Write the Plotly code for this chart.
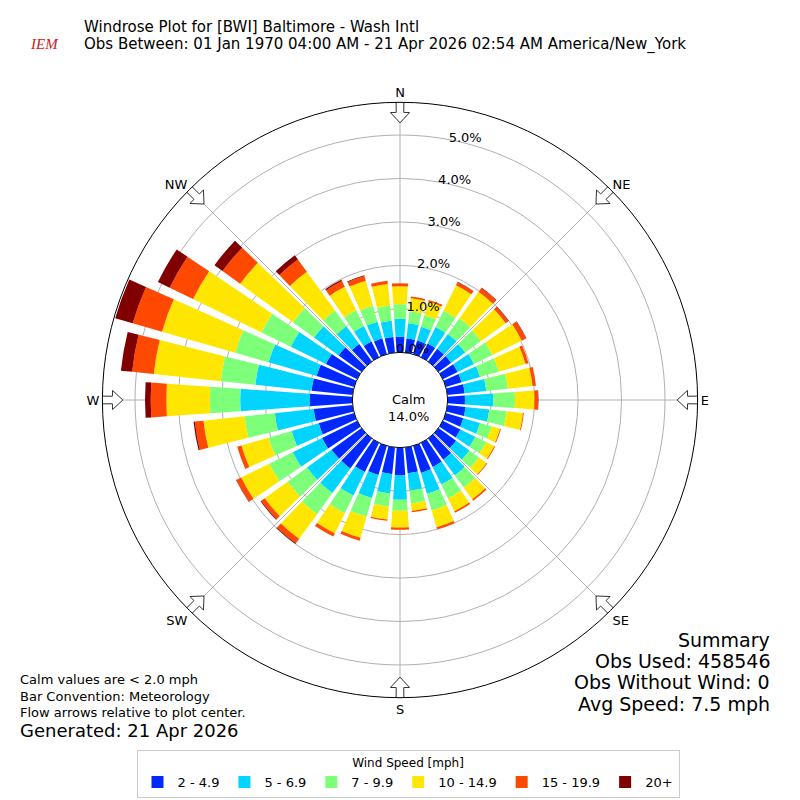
import plotly.graph_objects as go

# direction bins (deg clockwise from north)
directions = list(range(0, 360, 10))

# percent frequency per speed bin, per direction
spd_2_5 = [.36, .33, .33, .35, .36, .36, .38, .38, .40, .40, .42, .42, .45, .50, .60, .62, .65, .60,
           .64, .62, .70, .75, .85, .85, .90, .85, .90, .98, .95, .90, .80, .65, .50, .40, .38, .36]
spd_5_7 = [.41, .35, .33, .42, .42, .40, .42, .44, .50, .65, .55, .40, .38, .38, .45, .45, .50, .40,
           .56, .45, .55, .60, .70, .70, .75, .65, .90, 1.6, 1.3, 1.15, .90, .70, .50, .40, .40, .38]
spd_7_10 = [.34, .28, .28, .42, .45, .45, .47, .45, .50, .50, .40, .28, .28, .27, .35, .35, .40, .30,
            .25, .30, .45, .45, .60, .55, .60, .55, .70, .70, .80, .80, .75, .60, .45, .40, .38, .35]
spd_10_15 = [.41, .30, .32, .65, .75, .70, .75, .64, .57, .45, .38, .20, .21, .22, .33, .33, .40, .17,
             .39, .30, .50, .52, .70, .65, .72, .65, .95, 1.0, 1.55, 1.75, 1.75, 1.5, 1.1, .60, .60, .50]
spd_15_20 = [.07, .04, .04, .08, .11, .08, .11, .07, .08, .08, .02, .02, .02, .02, .04, .04, .05, .03,
             .05, .03, .07, .08, .13, .10, .12, .10, .20, .36, .50, .70, .60, .50, .35, .15, .11, .07]
spd_20 = [0, 0, 0, .01, .01, .01, .01, 0, 0, .01, 0, 0, 0, 0, 0, 0, 0, 0,
          0, 0, 0, 0, .02, .02, .01, 0, .03, .13, .26, .42, .30, .23, .12, .03, .02, 0]

bins = ["2 - 4.9", "5 - 6.9", "7 - 9.9", "10 - 14.9", "15 - 19.9", "20+"]
series = [spd_2_5, spd_5_7, spd_7_10, spd_10_15, spd_15_20, spd_20]
colors = ["#0028ff", "#00d4ff", "#7dff7a", "#ffe600", "#ff4800", "#800000"]

compass = ["N", "NE", "E", "SE", "S", "SW", "W", "NW"]
compass_deg = [0, 45, 90, 135, 180, 225, 270, 315]
ring_vals = [0, 1, 2, 3, 4, 5]

fig = go.Figure()
for name, vals, col in zip(bins, series, colors):
    fig.add_trace(go.Barpolar(r=vals, theta=directions, width=8, name=name,
                              marker=dict(color=col, line=dict(width=0))))

# ring labels
fig.add_trace(go.Scatterpolar(
    r=[v + 0.1 for v in ring_vals], theta=[14] * 6, mode="text", showlegend=False,
    text=["%.1f%%" % v for v in ring_vals], textposition="middle center",
    textfont=dict(size=13)))

# flow arrows (block arrows pointing toward the center)
arrow_r = [5.8, 5.52, 5.52, 5.28, 5.52, 5.52, 5.8, 5.8]
arrow_dt = [-0.75, -0.75, -1.9, 0, 1.9, 0.75, 0.75, -0.75]
for d in compass_deg:
    fig.add_trace(go.Scatterpolar(
        r=arrow_r, theta=[d + t for t in arrow_dt], mode="lines", fill="toself",
        fillcolor="white", line=dict(color="#333", width=1), showlegend=False,
        hoverinfo="skip", cliponaxis=False))

fig.update_layout(
    width=800, height=800, margin=dict(l=0, r=0, t=0, b=0),
    paper_bgcolor="white", font=dict(family="DejaVu Sans", size=13, color="black"),
    polar=dict(
        domain=dict(x=[0.118, 0.862], y=[0.138, 0.882]),
        hole=0.16, bgcolor="white", barmode="stack",
        radialaxis=dict(range=[0, 5.75], tickvals=ring_vals, showticklabels=False,
                        showline=False, gridcolor="#b0b0b0", ticks=""),
        angularaxis=dict(rotation=90, direction="clockwise", tickmode="array",
                         tickvals=compass_deg, ticktext=compass, gridcolor="#b0b0b0",
                         linecolor="black", ticks="", tickfont=dict(size=13)),
    ),
    legend=dict(orientation="h", x=0.5, xanchor="center", y=0.012, yanchor="bottom",
                title=dict(text="Wind Speed [mph]", side="top center", font=dict(size=12)),
                bordercolor="#ccc", borderwidth=1, font=dict(size=13),
                itemwidth=30, traceorder="normal"),
)

ann = [
    dict(x=0.092, y=0.976, text="Windrose Plot for [BWI] Baltimore - Wash Intl",
         xanchor="left", yanchor="middle", font=dict(size=15)),
    dict(x=0.092, y=0.954, text="Obs Between: 01 Jan 1970 04:00 AM - 21 Apr 2026 02:54 AM America/New_York",
         xanchor="left", yanchor="middle", font=dict(size=15)),
    dict(x=0.5, y=0.5, text="Calm<br>14.0%", xanchor="center", yanchor="middle", font=dict(size=13)),
    dict(x=0.012, y=0.161, text="Calm values are < 2.0 mph", xanchor="left", yanchor="middle"),
    dict(x=0.012, y=0.140, text="Bar Convention: Meteorology", xanchor="left", yanchor="middle"),
    dict(x=0.012, y=0.120, text="Flow arrows relative to plot center.", xanchor="left", yanchor="middle"),
    dict(x=0.012, y=0.097, text="Generated: 21 Apr 2026", xanchor="left", yanchor="middle", font=dict(size=18)),
    dict(x=0.955, y=0.20, text="Summary", xanchor="right", yanchor="middle", font=dict(size=19)),
    dict(x=0.955, y=0.174, text="Obs Used: 458546", xanchor="right", yanchor="middle", font=dict(size=19)),
    dict(x=0.955, y=0.147, text="Obs Without Wind: 0", xanchor="right", yanchor="middle", font=dict(size=19)),
    dict(x=0.955, y=0.12, text="Avg Speed: 7.5 mph", xanchor="right", yanchor="middle", font=dict(size=19)),
    dict(x=0.045, y=0.955, text="<i>IEM</i>", xanchor="center", yanchor="middle",
         font=dict(size=15, color="#d02020", family="Liberation Serif")),
]
ann[7]["y"] = 0.21
ann[8]["y"] = 0.184
ann[9]["y"] = 0.157
ann[10]["y"] = 0.13
for a in ann:
    fig.add_annotation(xref="paper", yref="paper", showarrow=False, **a)

fig.write_html("out.html")
